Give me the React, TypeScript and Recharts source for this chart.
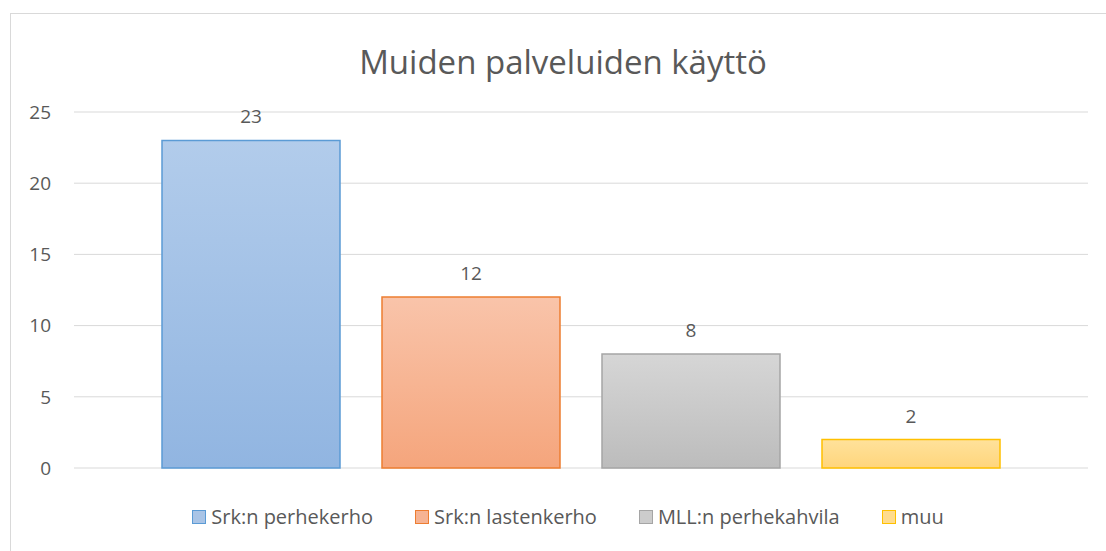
import React from "react";
import { BarChart, Bar, XAxis, YAxis, CartesianGrid, LabelList } from "recharts";

const title = "Muiden palveluiden käyttö";
const seriesNames = ["Srk:n perhekerho", "Srk:n lastenkerho", "MLL:n perhekahvila", "muu"];
const seriesValues = [23, 12, 8, 2];
const seriesKeys = ["s0", "s1", "s2", "s3"];
const yTicks = [0, 5, 10, 15, 20, 25];

const strokeColors = ["#5b9bd5", "#ed7d31", "#a5a5a5", "#ffc000"];
const gradTop = ["#b2cceb", "#f9c4aa", "#d6d6d6", "#ffe29b"];
const gradBottom = ["#91b5e1", "#f5a57c", "#bcbcbc", "#ffd57c"];
const legendFill = ["#a9c4e6", "#f6b393", "#cccccc", "#ffdc8e"];

const row: Record<string, number | string> = { name: "all" };
seriesKeys.forEach((k, i) => {
  row[k] = seriesValues[i];
});
const data = [row];

const FONT = "'Open Sans', sans-serif";
const TEXT = "#595959";

export default function App() {
  return (
    <div style={{ position: "absolute", left: 0, top: 0, width: 1106, height: 551, background: "#fff", fontFamily: FONT }}>
      <div
        style={{
          position: "absolute",
          left: 10,
          top: 13,
          width: 1110,
          height: 560,
          border: "1px solid #d9d9d9",
          boxSizing: "border-box",
        }}
      />
      <div
        style={{
          position: "absolute",
          left: 0,
          width: 1106,
          top: 42,
          textAlign: "center",
          fontSize: 33,
          color: TEXT,
          fontFamily: FONT,
          paddingLeft: 20,
          boxSizing: "border-box",
          lineHeight: "40px",
        }}
      >
        {title}
      </div>
      <div style={{ position: "absolute", left: 0, top: 0 }}>
        <BarChart
          width={1106}
          height={551}
          data={data}
          margin={{ top: 112, right: 18, bottom: 83, left: 14 }}
          barSize={178}
          barGap={42}
        >
          <defs>
            {seriesKeys.map((k, i) => (
              <linearGradient key={k} id={`g${i}`} x1="0" y1="0" x2="0" y2="1">
                <stop offset="0%" stopColor={gradTop[i]} />
                <stop offset="100%" stopColor={gradBottom[i]} />
              </linearGradient>
            ))}
          </defs>
          <CartesianGrid horizontal vertical={false} stroke="#d9d9d9" strokeWidth={1} />
          <XAxis dataKey="name" hide />
          <YAxis
            domain={[0, 25]}
            ticks={yTicks}
            width={60}
            axisLine={false}
            tickLine={false}
            tickSize={0}
            tickMargin={23}
            tick={{ fill: TEXT, fontSize: 19, fontFamily: FONT }}
          />
          {seriesKeys.map((k, i) => (
            <Bar
              key={k}
              dataKey={k}
              name={seriesNames[i]}
              fill={`url(#g${i})`}
              stroke={strokeColors[i]}
              strokeWidth={1.5}
              isAnimationActive={false}
            >
              <LabelList
                dataKey={k}
                position="top"
                offset={17}
                style={{ fill: TEXT, fontSize: 19, fontFamily: FONT }}
              />
            </Bar>
          ))}
        </BarChart>
      </div>
      <div
        style={{
          position: "absolute",
          left: 0,
          top: 503,
          width: 1106,
          display: "flex",
          justifyContent: "center",
          paddingLeft: 30,
          boxSizing: "border-box",
          gap: 42,
        }}
      >
        {seriesNames.map((n, i) => (
          <div key={n} style={{ display: "flex", alignItems: "center", fontSize: 20, color: TEXT, fontFamily: FONT }}>
            <span
              style={{
                display: "inline-block",
                width: 12,
                height: 12,
                background: legendFill[i],
                border: `1.5px solid ${strokeColors[i]}`,
                marginRight: 5,
              }}
            />
            <span>{n}</span>
          </div>
        ))}
      </div>
    </div>
  );
}
